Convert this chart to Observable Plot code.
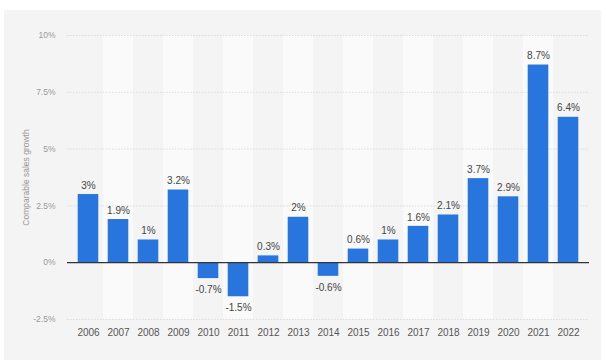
<!DOCTYPE html>
<html>
<head>
<meta charset="utf-8">
<script src="https://cdn.jsdelivr.net/npm/d3@7"></script>
<script src="https://cdn.jsdelivr.net/npm/@observablehq/plot@0.6"></script>
<style>
  html, body { margin: 0; padding: 0; background: #ffffff; }
  #wrap { position: relative; width: 606px; height: 360px; overflow: hidden; }
  #panel { position: absolute; left: 4px; top: 10px; width: 597px; height: 350px; background: #f4f4f4; }
  #chart { position: absolute; left: 0; top: 0; }
  #chart svg { background: transparent; }
</style>
</head>
<body>
<div id="wrap"><div id="panel"></div><div id="chart"></div></div>
<script>
const years = ["2006","2007","2008","2009","2010","2011","2012","2013","2014","2015","2016","2017","2018","2019","2020","2021","2022"];
const growth = [3, 1.9, 1, 3.2, -0.7, -1.5, 0.3, 2, -0.6, 0.6, 1, 1.6, 2.1, 3.7, 2.9, 8.7, 6.4];
const labels = ["3%","1.9%","1%","3.2%","-0.7%","-1.5%","0.3%","2%","-0.6%","0.6%","1%","1.6%","2.1%","3.7%","2.9%","8.7%","6.4%"];
const yTicks = [-2.5, 0, 2.5, 5, 7.5, 10];
const yTickLabels = ["-2.5%","0%","2.5%","5%","7.5%","10%"];

const data = years.map((y, i) => ({year: y, value: growth[i], label: labels[i], i}));
const bands = data.filter(d => d.i % 2 === 1);

const chart = Plot.plot({
  width: 606,
  height: 360,
  marginLeft: 67,
  marginRight: 17,
  marginTop: 35,
  marginBottom: 41,
  style: {fontFamily: "'Liberation Sans', Arial, sans-serif", background: "transparent"},
  x: {domain: years, padding: 0, label: null},
  y: {domain: [-2.5, 10], label: null},
  marks: [
    Plot.barY(bands, {x: "year", y1: -2.5, y2: 10, fill: "#fafafa"}),
    Plot.ruleY(yTicks.filter(t => t !== 0), {stroke: "#dcdcdc", strokeDasharray: "1.5,1.5", strokeWidth: 1}),
    Plot.barY(data, {x: "year", y: "value", fill: "#2876dd", insetLeft: 4.7, insetRight: 4.7}),
    Plot.ruleY([0], {stroke: "#333333", strokeWidth: 1.2}),
    Plot.text(data.filter(d => d.value >= 0), {x: "year", y: "value", text: "label", dy: -9, fill: "#444", fontSize: 10}),
    Plot.text(data.filter(d => d.value < 0), {x: "year", y: "value", text: "label", dy: 11, fill: "#444", fontSize: 10}),
    Plot.axisX({tickSize: 0, tickPadding: 9, fontSize: 10, color: "#555", label: null}),
    Plot.axisY({ticks: yTicks, tickFormat: (d) => yTickLabels[yTicks.indexOf(d)], tickSize: 0, tickPadding: 12, fontSize: 8.5, color: "#999",
      label: "Comparable sales growth", labelAnchor: "center", labelArrow: "none", labelOffset: 45})
  ]
});
document.getElementById("chart").appendChild(chart);
</script>
</body>
</html>
